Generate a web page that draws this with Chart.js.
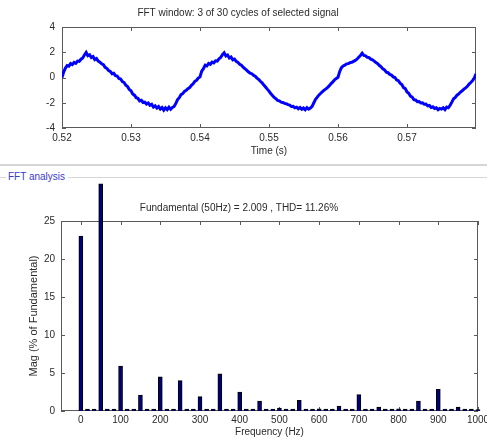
<!DOCTYPE html>
<html>
<head>
<meta charset="utf-8">
<script src="https://cdn.jsdelivr.net/npm/chart.js@4"></script>
<style>
  body { margin: 0; background: #fff; font-family: "Liberation Sans", Arial, sans-serif; }
  #wrap { position: relative; width: 487px; height: 440px; overflow: hidden; }
  .box { position: absolute; left: 0; width: 487px; }
  .sep { position: absolute; background: #d6d6d6; }
  #legend { position: absolute; left: 8px; top: 171px; font-size: 10px; color: #3a3acc; line-height: 12px; }
</style>
</head>
<body>
<div id="wrap">
  <div class="box" style="top:0;height:160px"><canvas id="signalChart"></canvas></div>
  <div class="sep" style="left:0;top:164px;width:487px;height:2px"></div>
  <div class="sep" style="left:0;top:177px;width:6px;height:1px"></div>
  <div id="legend">FFT analysis</div>
  <div class="sep" style="left:68px;top:177px;width:419px;height:1px"></div>
  <div class="box" style="top:180px;height:260px"><canvas id="fftChart"></canvas></div>
</div>
<script>
// ---- top plot: 3 cycles of the signal, sampled every 0.25 ms ----
const sampleStart = 0.52;
const sampleStep = 0.00025;
const cycle1 = [
  0.00, 0.45, 0.75, 0.95, 0.90, 1.10, 1.02, 1.20, 1.12, 1.30,
  1.28, 1.45, 1.55, 1.78, 1.98, 1.72, 1.80, 1.58, 1.66, 1.42,
  1.50, 1.30, 1.22, 1.08, 1.02, 0.80, 0.72, 0.55, 0.48, 0.30,
  0.34, 0.15, 0.12, -0.08, -0.12, -0.32, -0.40, -0.62, -0.72, -0.95,
  -1.05, -1.30, -1.40, -1.60, -1.65, -1.85, -1.80, -1.98, -1.95, -2.10,
  -2.02, -2.20, -2.12, -2.35, -2.25, -2.42, -2.30, -2.50, -2.38, -2.58,
  -2.40, -2.55, -2.35, -2.52, -2.38, -2.30, -2.05, -1.75, -1.60, -1.35,
  -1.28, -1.10, -1.02, -0.88, -0.80, -0.62, -0.50, -0.30, -0.22, -0.05
];
const cycle2 = [
  0.05, 0.50, 0.70, 0.98, 0.92, 1.12, 1.05, 1.22, 1.15, 1.32,
  1.30, 1.48, 1.58, 1.80, 1.95, 1.70, 1.78, 1.55, 1.62, 1.40,
  1.46, 1.28, 1.20, 1.05, 0.98, 0.82, 0.70, 0.58, 0.45, 0.35,
  0.30, 0.18, 0.10, -0.05, -0.15, -0.30, -0.42, -0.60, -0.75, -0.92,
  -1.08, -1.28, -1.42, -1.58, -1.68, -1.82, -1.85, -1.95, -1.98, -2.05,
  -2.08, -2.15, -2.18, -2.30, -2.28, -2.40, -2.35, -2.48, -2.38, -2.52,
  -2.42, -2.55, -2.38, -2.50, -2.42, -2.28, -2.00, -1.72, -1.55, -1.38,
  -1.25, -1.12, -1.00, -0.90, -0.78, -0.65, -0.48, -0.35, -0.18, -0.08
];
const cycle3 = [
  0.02, 0.48, 0.78, 0.92, 0.98, 1.08, 1.10, 1.18, 1.20, 1.28,
  1.35, 1.45, 1.60, 1.75, 1.92, 1.75, 1.72, 1.60, 1.58, 1.45,
  1.40, 1.30, 1.18, 1.10, 0.95, 0.85, 0.68, 0.60, 0.42, 0.38,
  0.25, 0.20, 0.05, 0.00, -0.20, -0.25, -0.45, -0.55, -0.80, -0.88,
  -1.15, -1.25, -1.48, -1.55, -1.75, -1.78, -1.92, -1.90, -2.02, -2.00,
  -2.12, -2.10, -2.25, -2.22, -2.38, -2.32, -2.45, -2.40, -2.55, -2.45,
  -2.50, -2.40, -2.55, -2.35, -2.40, -2.20, -1.95, -1.68, -1.58, -1.40,
  -1.30, -1.15, -1.05, -0.92, -0.82, -0.70, -0.52, -0.40, -0.25, -0.05,
  0.30
];
const timeTicks = [0.52, 0.53, 0.54, 0.55, 0.56, 0.57];
const signalTicks = [-4, -2, 0, 2, 4];

// ---- bottom plot: FFT bins, 50/3 Hz apart (3-cycle window) ----
const binWidthHz = 50 / 3;
const magnitudes = [
  23.0, 0.25, 0.25, 29.9, 0.25, 0.25, 5.9, 0.25, 0.25, 2.1,
  0.25, 0.25, 4.5, 0.25, 0.25, 4.0, 0.25, 0.25, 1.9, 0.25,
  0.25, 4.9, 0.25, 0.25, 2.5, 0.25, 0.25, 1.3, 0.25, 0.25,
  0.4, 0.25, 0.25, 1.4, 0.25, 0.25, 0.3, 0.25, 0.25, 0.65,
  0.25, 0.25, 2.15, 0.25, 0.25, 0.5, 0.25, 0.25, 0.3, 0.25,
  0.25, 1.3, 0.25, 0.25, 2.85, 0.25, 0.25, 0.5, 0.25, 0.25,
  0.2
];
const freqTicks = [0, 100, 200, 300, 400, 500, 600, 700, 800, 900, 1000];
const magTicks = [0, 5, 10, 15, 20, 25];

const signal = cycle1.concat(cycle2, cycle3).map((v, i) => ({ x: sampleStart + i * sampleStep, y: v }));
const spectrum = magnitudes.map((v, i) => ({ x: i * binWidthHz, y: v }));

const textColor = '#2a2a2a';
const font10 = { family: '"Liberation Sans", Arial, sans-serif', size: 10 };
const noGrid = { display: false, drawTicks: false };

// matlab-style box with inward ticks on all four sides
const frame = {
  id: 'frame',
  beforeDatasetsDraw(chart) {
    const { ctx, chartArea: a, scales: { x, y } } = chart;
    ctx.save();
    ctx.strokeStyle = '#5a5a5a';
    ctx.lineWidth = 1;
    ctx.strokeRect(Math.round(a.left) + 0.5, Math.round(a.top) + 0.5, Math.round(a.width) - 1, Math.round(a.height) - 1);
    ctx.beginPath();
    x.ticks.forEach(t => {
      const px = Math.round(x.getPixelForValue(t.value)) + 0.5;
      ctx.moveTo(px, a.bottom); ctx.lineTo(px, a.bottom - 4);
      ctx.moveTo(px, a.top); ctx.lineTo(px, a.top + 4);
    });
    y.ticks.forEach(t => {
      const py = Math.round(y.getPixelForValue(t.value)) + 0.5;
      ctx.moveTo(a.left, py); ctx.lineTo(a.left + 4, py);
      ctx.moveTo(a.right, py); ctx.lineTo(a.right - 4, py);
    });
    ctx.stroke();
    ctx.restore();
  }
};

const fixedTicks = list => s => { s.ticks = list.map(v => ({ value: v })); };

new Chart(document.getElementById('signalChart'), {
  type: 'line',
  data: {
    datasets: [{
      data: signal,
      borderColor: '#0000ff',
      borderWidth: 3,
      pointRadius: 0,
      tension: 0
    }]
  },
  options: {
    responsive: true,
    maintainAspectRatio: false,
    animation: false,
    layout: { padding: { left: 0, right: 11, top: 2, bottom: 3 } },
    plugins: {
      legend: { display: false },
      tooltip: { enabled: false },
      title: {
        display: true,
        text: 'FFT window: 3 of 30 cycles of selected signal',
        color: textColor,
        font: { ...font10, weight: 'normal' },
        padding: { top: 5, bottom: 8 }
      }
    },
    scales: {
      x: {
        type: 'linear', min: 0.52, max: 0.58,
        afterBuildTicks: fixedTicks(timeTicks),
        afterFit: s => { s.height = 29; s.paddingLeft = 0; s.paddingRight = 0; },
        grid: noGrid,
        border: { display: false },
        ticks: { color: textColor, font: font10, padding: 4, maxRotation: 0, autoSkip: false,
                 callback: v => v.toFixed(2) },
        title: { display: true, text: 'Time (s)', color: textColor, font: font10, padding: { top: 0, bottom: 0 } }
      },
      y: {
        min: -4, max: 4,
        afterBuildTicks: fixedTicks(signalTicks),
        afterFit: s => { s.width = 62; s.paddingTop = 0; s.paddingBottom = 0; },
        grid: noGrid,
        border: { display: false },
        ticks: { color: textColor, font: font10, padding: 7 }
      }
    }
  },
  plugins: [frame]
});

new Chart(document.getElementById('fftChart'), {
  type: 'bar',
  data: {
    datasets: [{
      data: spectrum,
      backgroundColor: '#00007a',
      borderColor: '#000000',
      borderWidth: 1,
      barThickness: 4,
      clip: false
    }]
  },
  options: {
    responsive: true,
    maintainAspectRatio: false,
    animation: false,
    layout: { padding: { left: 0, right: 9, top: 2, bottom: 2 } },
    plugins: {
      legend: { display: false },
      tooltip: { enabled: false },
      title: {
        display: true,
        text: 'Fundamental (50Hz) = 2.009 , THD= 11.26%',
        color: textColor,
        font: { ...font10, weight: 'normal' },
        padding: { top: 20, bottom: 7 }
      }
    },
    scales: {
      x: {
        type: 'linear', min: -50, max: 1000, offset: false,
        afterBuildTicks: fixedTicks(freqTicks),
        afterFit: s => { s.height = 27; s.paddingLeft = 0; s.paddingRight = 0; },
        grid: noGrid,
        border: { display: false },
        ticks: { color: textColor, font: font10, padding: 3, maxRotation: 0, autoSkip: false,
                 callback: v => String(v) },
        title: { display: true, text: 'Frequency (Hz)', color: textColor, font: font10, padding: { top: 0, bottom: 0 } }
      },
      y: {
        min: 0, max: 25,
        afterBuildTicks: fixedTicks(magTicks),
        afterFit: s => { s.width = 61; s.paddingTop = 0; s.paddingBottom = 0; },
        grid: noGrid,
        border: { display: false },
        ticks: { color: textColor, font: font10, padding: 6 },
        title: { display: true, text: 'Mag (% of Fundamental)', color: textColor,
                 font: { ...font10, size: 11 }, padding: { top: 27, bottom: 0 } }
      }
    }
  },
  plugins: [frame]
});
</script>
</body>
</html>
